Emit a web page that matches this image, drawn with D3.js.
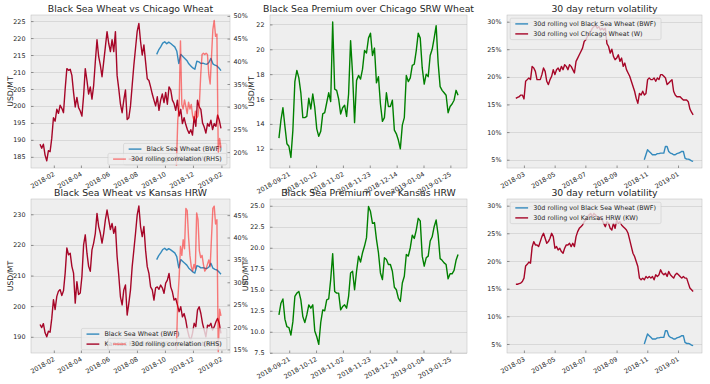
<!DOCTYPE html>
<html>
<head>
<meta charset="utf-8">
<script src="https://cdn.jsdelivr.net/npm/d3@7"></script>
<style>
  body { margin: 0; background: #fff; }
  text { font-family: "DejaVu Sans", sans-serif; fill: #262626; }
</style>
</head>
<body>
<script>
// ---- data ----
// daily closes, evenly spread between the first and last date of each series
const chicagoPrice = [
  188.7,187.5,188.7,185.5,183.8,186.8,186.5,190.5,196.5,195.5,
  199,197.8,200.2,199.3,198,205,211,210.5,210.8,209,
  204,199.7,202.5,199.5,198.5,197,203,211,207.5,203.5,
  205.6,202,206,213,219.5,214.5,212,208.6,213,217.4,
  221.9,218.4,216,219.5,216,221.9,209,205,200.5,198,
  201.7,204.7,196,196.5,200,206,212,217,222,224.3,
  219,215,218,213,208,207.5,205.6,203.5,201.7,200,
  202.7,198.7,201.7,203.5,201,204,200.5,205.6,204.7,201.7,
  200.7,198.7,201.7,197,199,194.8,196.5,194.5,193,191.9,
  193,191.4,196.8,194,201.7,199.7,199,195,193.8,192,
  194.8,194,195.8,193,194.8,194,197.3,195.8,193.4
];
const kansasPrice = [
  194,193,194.3,191.3,190,191.8,191.5,196,202.1,198.9,
  203.2,204.9,205.4,203.5,205,210.8,219,216.8,217.3,213,
  210.8,201,208,203.8,204.3,209.7,220,223.3,217.3,213,
  211.4,218.4,220.6,223.8,230.3,226,223.8,220.6,223.8,228.2,
  231.4,228.2,225,227,223.8,226,216.2,210,203,200.4,
  205.3,206.9,197.1,200.9,205.3,212.9,218.3,223.8,229.8,232.7,
  226,222.7,226,218.3,212.9,210.7,206.3,205.3,202,206,
  206.3,205.5,206.9,206,204.2,207.5,208.5,210.7,206.3,204.7,
  202,202.5,200.4,198.2,199.8,196.5,197.6,195.4,192.2,190,
  188.9,191.1,194.4,193.3,198.7,199.8,197.6,194.4,192.2,190,
  193.8,193.5,194.4,192.2,193.3,194.9,196,194.4,191.1
];
const priceStart = "2018-01-02", priceEnd = "2019-01-31";

const bwfPrice = [
  215.2,216.5,217.4,218.5,218.9,218.3,218.8,218.4,217.9,217.4,
  216.2,212.5,215.2,214.6,214,213.4,212.4,211.8,211.2,210.8,
  213.2,213,212.5,212.6,212.4,212.3,212.8,214,212.4,212,
  211.8,211.2,210.4
];
const bwfStart = "2018-09-13", bwfEnd = "2019-01-31";

const premiumChicago = [
  12.85,14.3,15.3,13.8,12.4,12.2,11.3,13.5,17.4,18.3,
  17.7,16.5,14.5,14.5,14.6,16.06,15.2,16.4,15.3,13.6,
  13.0,13.4,14.8,14.9,15.7,16.5,15.8,22.2,16.8,16.7,
  16,14.8,15.3,15.5,14.6,16.4,20.7,18,14.1,17.5,
  17.9,17.6,18.4,19.9,19.7,20.9,21.3,19.5,20.1,17.3,
  17.8,15.6,14.2,14.5,16.5,15.4,15.4,15.9,13.5,13.2,
  12.7,12.0,13.9,14.5,17.9,17.4,17.7,18.7,18.8,19.9,
  21.3,20.9,18.5,17.2,18.0,17.8,19.5,20.0,20.9,21.9,
  18.9,17.0,16.7,16.5,16.3,14.9,15.4,15.6,15.9,16.7,
  16.3
];
const premiumKansas = [
  12.0,13.4,13.9,11.5,10.6,10.5,9.6,11.2,14.2,14.6,
  14.8,13.8,11.8,11.1,12.0,13.2,12.8,13.2,10.1,9.4,
  8.5,11.1,12.6,12.5,13.8,13.9,16.2,19.3,14.8,14.6,
  14.6,12.6,13.0,13.2,12.8,14.2,17.0,17.2,15.0,17.2,
  19.0,18.3,19.4,20.2,21.2,24.9,24.3,22.9,23.0,21.0,
  19.4,17.0,16.2,18.8,18.6,18.0,18.0,17.2,15.3,15.0,
  14.0,13.6,15.8,16.6,19.2,19.0,20.0,21.5,21.1,22.1,
  23.5,23.2,19.0,17.8,18.8,19.0,20.8,21.3,22.5,23.3,
  21.5,18.7,18.5,18.2,18.0,16.3,16.9,16.9,17.3,18.5,
  19.2
];

// 30d rolling correlation, percent
const corrChicago = [
  17.0,27.0,30.0,44.5,30.5,29.5,31.5,30.0,28.5,31.0,
  29.5,30.5,28.0,27.0,29.0,27.5,28.0,30.5,37.0,41.5,
  41.8,41.5,41.8,41.5,37.0,35.0,41.0,47.0,49.0,45.5,
  46.0,20.0,23.0,21.0
];
const corrKansas = [
  15.0,26.0,31.0,38.0,36.0,39.5,37.5,46.5,46.0,40.0,
  36.0,33.5,32.5,34.0,33.0,45.5,44.0,37.0,35.5,36.0,
  34.0,32.5,33.0,34.0,35.0,33.5,40.0,46.5,47.0,43.0,
  44.0,14.5,24.0,22.5
];
const corrStart = "2018-10-26", corrEnd = "2019-01-31";

// 30d rolling volatility, percent
const volChicago = [
  16.1,16.3,16.4,16.7,16.7,16.0,19.2,19.5,19.8,19.5,
  21.9,21.6,21.0,19.5,19.5,19.5,20.4,21.6,21.0,19.2,
  18.6,19.5,20.1,21.3,20.4,21.3,21.6,21.0,21.9,21.3,
  22.2,21.9,21.3,22.2,21.9,21.3,20.7,22.8,23.4,24.0,
  24.6,25.2,26.4,26.7,27.3,27.9,28.2,28.8,29.1,29.4,
  28.8,29.1,28.5,28.8,28.5,28.8,26.0,25.5,24.3,25.0,
  23.7,23.1,23.4,24.0,22.8,23.4,21.9,22.5,21.3,20.7,
  20.1,19.2,18.3,17.4,16.1,15.2,17.0,16.7,17.4,16.7,
  17.0,19.5,19.8,19.5,19.5,19.8,19.2,19.8,19.5,20.4,
  20.4,20.1,19.8,18.6,18.9,19.2,19.5,17.4,16.7,16.4,
  16.4,16.4,16.1,15.8,15.8,15.8,15.5,14.2,13.6,13.1
];
const volKansas = [
  15.8,15.8,15.9,16.0,16.3,16.9,19.1,19.4,19.8,19.6,
  22.5,23.5,22.9,22.9,22.6,23.5,24.4,25.0,24.1,23.2,
  23.5,24.1,25.0,24.4,22.3,22.6,22.0,22.3,21.7,21.4,
  22.3,22.9,22.9,23.2,22.6,23.2,22.6,24.4,25.3,25.9,
  26.2,26.5,27.1,27.4,28.0,28.3,28.6,28.0,28.6,28.3,
  28.0,27.4,28.0,27.4,26.8,26.2,27.1,26.8,25.9,25.6,
  26.8,25.9,27.4,26.8,27.1,26.5,26.2,25.9,25.6,25.0,
  23.8,22.6,21.4,20.8,19.9,19.0,16.9,16.6,16.9,16.6,
  17.2,16.9,17.2,16.9,17.2,16.6,17.5,17.2,17.5,18.4,
  17.8,17.5,17.8,17.2,18.1,17.5,17.2,16.9,17.5,17.8,
  17.5,17.2,16.9,17.2,16.9,16.9,16.0,15.1,14.8,14.5
];
const volStart = "2018-02-13", volEnd = "2019-01-31";
const volBwf = [
  5.0,5.9,6.8,6.5,6.2,5.9,5.9,5.9,6.1,6.1,
  6.2,6.2,6.2,7.4,7.4,6.5,6.2,6.1,5.9,5.9,
  6.1,6.2,6.3,6.5,6.5,5.3,5.1,5.1,5.0,4.8,
  4.7
];
const volBwfStart = "2018-10-26", volBwfEnd = "2019-01-31";

// tick labels
const priceTicks = ["2018-02-01","2018-04-01","2018-06-01","2018-08-01","2018-10-01","2018-12-01","2019-02-01"];
const premiumTicks = ["2018-09-21","2018-10-12","2018-11-02","2018-11-23","2018-12-14","2019-01-04","2019-01-25"];
const volTicks = ["2018-03-01","2018-05-01","2018-07-01","2018-09-01","2018-11-01","2019-01-01"];

const titles = [
  "Black Sea Wheat vs Chicago Wheat", "Black Sea Premium over Chicago SRW Wheat", "30 day return volatility",
  "Black Sea Wheat vs Kansas HRW", "Black Sea Premium over Kansas HRW", "30 day return volatility"
];

// ---- helpers ----
const parse = d3.timeParse("%Y-%m-%d");
function spread(values, start, end) {
  const t0 = parse(start).getTime(), t1 = parse(end).getTime();
  return values.map((v, i) => ({ date: new Date(t0 + (t1 - t0) * i / (values.length - 1)), value: v }));
}

const BLUE = "#348ABD", RED = "#A60628";
const TICK_FS = 6.4, LEG_FS = 6.4;

const W = 710, H = 384;
const svg = d3.select("body").append("svg").attr("width", W).attr("height", H);

let clipId = 0;

function drawPanel(p) {
  const g = svg.append("g");
  const allDates = p.series.concat(p.series2 || []).flatMap(s => s.data.map(d => d.date));
  const ext = d3.extent(allDates);
  const span = ext[1] - ext[0];
  const x = d3.scaleTime()
    .domain([new Date(+ext[0] - 0.05 * span), new Date(+ext[1] + 0.05 * span)])
    .range([p.left, p.right]);
  const y = d3.scaleLinear().domain(p.yDomain).range([p.bottom, p.top]);

  g.append("rect")
    .attr("x", p.left).attr("y", p.top)
    .attr("width", p.right - p.left).attr("height", p.bottom - p.top)
    .attr("fill", "#eeeeee");

  // horizontal grid
  g.selectAll(".grid").data(p.yTicks).join("line")
    .attr("x1", p.left).attr("x2", p.right)
    .attr("y1", d => Math.round(y(d)) + 0.5).attr("y2", d => Math.round(y(d)) + 0.5)
    .attr("stroke", "#d2d2d2").attr("stroke-width", 0.8);

  // spines
  g.append("rect")
    .attr("x", p.left).attr("y", p.top)
    .attr("width", p.right - p.left).attr("height", p.bottom - p.top)
    .attr("fill", "none").attr("stroke", "#bcbcbc").attr("stroke-width", 0.5);

  // x axis
  const xAxis = g.append("g")
    .attr("transform", "translate(0," + p.bottom + ")")
    .call(d3.axisBottom(x).tickValues(p.xTicks.map(parse)).tickFormat(d3.timeFormat(p.xFmt))
      .tickSizeInner(-2.5).tickSizeOuter(0));
  xAxis.select(".domain").remove();
  xAxis.selectAll("line").attr("stroke", "#555").attr("stroke-width", 0.6);
  xAxis.selectAll("text")
    .attr("y", 0).attr("dy", 0)
    .attr("text-anchor", "end")
    .attr("transform", "translate(1,7.5) rotate(-30)")
    .style("font-size", TICK_FS + "px")
    .style("font-family", "DejaVu Sans");

  // y axis
  const yAxis = g.append("g")
    .attr("transform", "translate(" + p.left + ",0)")
    .call(d3.axisLeft(y).tickValues(p.yTicks).tickFormat(p.yFmt)
      .tickSizeInner(-2.5).tickSizeOuter(0).tickPadding(5.5));
  yAxis.select(".domain").remove();
  yAxis.selectAll("line").attr("stroke", "#555").attr("stroke-width", 0.6);
  yAxis.selectAll("text").style("font-size", TICK_FS + "px").style("font-family", "DejaVu Sans");

  // title
  svg.append("text")
    .attr("x", (p.left + p.right) / 2).attr("y", p.top - 3.3)
    .attr("text-anchor", "middle")
    .style("font-size", "9.3px")
    .text(p.title);

  if (p.ylabel) {
    svg.append("text")
      .attr("transform", "translate(" + p.ylabelX + "," + (p.top + p.bottom) / 2 + ") rotate(-90)")
      .attr("text-anchor", "middle").attr("dy", "0.35em")
      .style("font-size", "7.7px")
      .text(p.ylabel);
  }

  const cid = "clip" + (clipId++);
  svg.append("clipPath").attr("id", cid).append("rect")
    .attr("x", p.left).attr("y", p.top)
    .attr("width", p.right - p.left).attr("height", p.bottom - p.top);

  const line = d3.line().x(d => x(d.date)).y(d => y(d.value));
  p.series.forEach(s => {
    g.append("path").datum(s.data)
      .attr("clip-path", "url(#" + cid + ")")
      .attr("fill", "none").attr("stroke", s.color)
      .attr("stroke-width", 1.4).attr("stroke-linejoin", "round")
      .attr("d", line);
  });

  legend(g, p.series, p, p.legendLoc);

  if (p.series2) {
    const y2 = d3.scaleLinear().domain(p.y2Domain).range([p.bottom, p.top]);
    const y2Axis = g.append("g")
      .attr("transform", "translate(" + p.right + ",0)")
      .call(d3.axisRight(y2).tickValues(p.y2Ticks).tickFormat(d => d + "%")
        .tickSizeInner(-2.5).tickSizeOuter(0).tickPadding(3.5));
    y2Axis.select(".domain").remove();
    y2Axis.selectAll("line").attr("stroke", "#555").attr("stroke-width", 0.6);
    y2Axis.selectAll("text").style("font-size", TICK_FS + "px").style("font-family", "DejaVu Sans");

    const line2 = d3.line().x(d => x(d.date)).y(d => y2(d.value));
    p.series2.forEach(s => {
      g.append("path").datum(s.data)
        .attr("clip-path", "url(#" + cid + ")")
        .attr("fill", "none").attr("stroke", s.color).attr("stroke-opacity", 0.5)
        .attr("stroke-width", 1.4).attr("stroke-linejoin", "round")
        .attr("d", line2);
    });
    legend(g, p.series2, p, "lr");
  }
}

function legend(g, items, p, loc) {
  if (!loc) return;
  const lg = g.append("g");
  const box = lg.append("rect");
  const rowH = 10, pad = 5.1, handle = 12.8;
  const texts = items.map(it => lg.append("text")
    .style("font-size", LEG_FS + "px")
    .attr("dy", "0.35em")
    .text(it.label));
  const maxW = d3.max(texts, t => t.node().getComputedTextLength());
  const boxW = pad + handle + pad + maxW + pad;
  const boxH = 1.4 + items.length * rowH;
  const bx = loc === "lr" ? p.right - 3.2 - boxW : p.left + 3.2;
  const by = loc === "lr" ? p.bottom - 3.2 - boxH : p.top + 3.2;
  box.attr("x", bx).attr("y", by).attr("width", boxW).attr("height", boxH)
    .attr("rx", 1.5)
    .attr("fill", "#eeeeee").attr("fill-opacity", 0.8)
    .attr("stroke", "#cccccc").attr("stroke-width", 0.6);
  items.forEach((it, i) => {
    const cy = by + 5.7 + i * rowH;
    lg.append("line")
      .attr("x1", bx + pad).attr("x2", bx + pad + handle)
      .attr("y1", cy).attr("y2", cy)
      .attr("stroke", it.color).attr("stroke-width", 1.4)
      .attr("stroke-opacity", it.alpha || 1);
    texts[i].attr("x", bx + pad + handle + pad).attr("y", cy);
  });
}

const pctFmt = d => d + "%";
const cols = [[31, 230], [270, 467], [507, 702]];
const rows = [[15, 168], [199, 353]];

// top-left
drawPanel({
  left: cols[0][0], right: cols[0][1], top: rows[0][0], bottom: rows[0][1],
  title: titles[0], ylabel: "USD/MT", ylabelX: 10,
  series: [
    { label: "Black Sea Wheat (BWF)", color: BLUE, data: spread(bwfPrice, bwfStart, bwfEnd) },
    { label: "Chicago Wheat (W)", color: RED, data: spread(chicagoPrice, priceStart, priceEnd) }
  ],
  series2: [
    { label: "30d rolling correlation (RHS)", color: "red", alpha: 0.5, data: spread(corrChicago, corrStart, corrEnd) }
  ],
  legendLoc: "lr",
  yDomain: [181.7, 226.8], yTicks: d3.range(185, 226, 5), yFmt: d3.format("d"),
  y2Domain: [16.5, 50.2], y2Ticks: d3.range(20, 51, 5),
  xTicks: priceTicks, xFmt: "%Y-%m"
});

// top-middle
drawPanel({
  left: cols[1][0], right: cols[1][1], top: rows[0][0], bottom: rows[0][1],
  title: titles[1], ylabel: "USD/MT", ylabelX: 251,
  series: [{ label: "premium", color: "green", data: spread(premiumChicago, bwfStart, bwfEnd) }],
  yDomain: [10.45, 22.76], yTicks: d3.range(12, 23, 2), yFmt: d3.format("d"),
  xTicks: premiumTicks, xFmt: "%Y-%m-%d"
});

// top-right
drawPanel({
  left: cols[2][0], right: cols[2][1], top: rows[0][0], bottom: rows[0][1],
  title: titles[2],
  series: [
    { label: "30d rolling vol Black Sea Wheat (BWF)", color: BLUE, data: spread(volBwf, volBwfStart, volBwfEnd) },
    { label: "30d rolling vol Chicago Wheat (W)", color: RED, data: spread(volChicago, volStart, volEnd) }
  ],
  legendLoc: "ul",
  yDomain: [3.5, 31.2], yTicks: d3.range(5, 31, 5), yFmt: pctFmt,
  xTicks: volTicks, xFmt: "%Y-%m"
});

// bottom-left
drawPanel({
  left: cols[0][0], right: cols[0][1], top: rows[1][0], bottom: rows[1][1],
  title: titles[3], ylabel: "USD/MT", ylabelX: 10,
  series: [
    { label: "Black Sea Wheat (BWF)", color: BLUE, data: spread(bwfPrice, bwfStart, bwfEnd) },
    { label: "Kansas Hard Red Winter Wheat (KW)", color: RED, data: spread(kansasPrice, priceStart, priceEnd) }
  ],
  series2: [
    { label: "30d rolling correlation (RHS)", color: "red", alpha: 0.5, data: spread(corrKansas, corrStart, corrEnd) }
  ],
  legendLoc: "lr",
  yDomain: [184.7, 235], yTicks: d3.range(190, 231, 10), yFmt: d3.format("d"),
  y2Domain: [14.2, 48.6], y2Ticks: d3.range(15, 46, 5),
  xTicks: priceTicks, xFmt: "%Y-%m"
});

// bottom-middle
drawPanel({
  left: cols[1][0], right: cols[1][1], top: rows[1][0], bottom: rows[1][1],
  title: titles[4], ylabel: "USD/MT", ylabelX: 245,
  series: [{ label: "premium", color: "green", data: spread(premiumKansas, bwfStart, bwfEnd) }],
  yDomain: [7.47, 25.8], yTicks: d3.range(7.5, 25.1, 2.5), yFmt: d3.format(".1f"),
  xTicks: premiumTicks, xFmt: "%Y-%m-%d"
});

// bottom-right
drawPanel({
  left: cols[2][0], right: cols[2][1], top: rows[1][0], bottom: rows[1][1],
  title: titles[5],
  series: [
    { label: "30d rolling vol Black Sea Wheat (BWF)", color: BLUE, data: spread(volBwf, volBwfStart, volBwfEnd) },
    { label: "30d rolling vol Kansas HRW (KW)", color: RED, data: spread(volKansas, volStart, volEnd) }
  ],
  legendLoc: "ul",
  yDomain: [3.37, 31.2], yTicks: d3.range(5, 31, 5), yFmt: pctFmt,
  xTicks: volTicks, xFmt: "%Y-%m"
});
</script>
</body>
</html>
